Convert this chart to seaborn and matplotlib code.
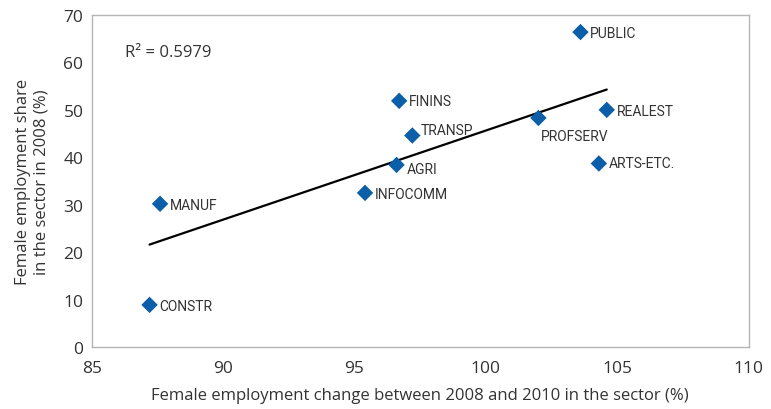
import pandas as pd
import matplotlib
matplotlib.use('Agg')
import matplotlib.pyplot as plt
import seaborn as sns

sectors = ['PUBLIC', 'FININS', 'TRANSP', 'AGRI', 'PROFSERV', 'REALEST',
           'ARTS-ETC.', 'INFOCOMM', 'MANUF', 'CONSTR']
emp_change = [103.6, 96.7, 97.2, 96.6, 102.0, 104.6, 104.3, 95.4, 87.6, 87.2]
female_share = [66.4, 51.9, 44.6, 38.4, 48.3, 50.0, 38.7, 32.5, 30.2, 8.9]

# label offsets in points (dx, dy)
offsets = {'PUBLIC': (7, -1), 'FININS': (7, 0), 'TRANSP': (6, 4), 'AGRI': (7, -3),
           'PROFSERV': (2, -13), 'REALEST': (7, -1), 'ARTS-ETC.': (7, 0),
           'INFOCOMM': (7, -1), 'MANUF': (7, -1), 'CONSTR': (7, -1)}

df = pd.DataFrame({'sector': sectors, 'x': emp_change, 'y': female_share})

sns.set_style('white')
plt.rcParams['font.family'] = ['Open Sans', 'DejaVu Sans']
text_col = '#333333'

fig = plt.figure(figsize=(7.71, 4.10), dpi=100)
ax = fig.add_axes([0.119, 0.151, 0.852, 0.810])

sns.regplot(data=df, x='x', y='y', ax=ax, ci=None, scatter=False,
            line_kws={'color': 'black', 'lw': 1.6})
sns.scatterplot(data=df, x='x', y='y', ax=ax, marker='D', s=70,
                color='#0b5ea8', edgecolor='none', zorder=3)

for name, xv, yv in zip(sectors, emp_change, female_share):
    dx, dy = offsets[name]
    ax.annotate(name, (xv, yv), xytext=(dx, dy), textcoords='offset points',
                ha='left', va='center', fontsize=10, color=text_col,
                family=['Roboto', 'DejaVu Sans'])

ax.text(0.05, 0.89, 'R² = 0.5979', transform=ax.transAxes, fontsize=12,
        color=text_col, va='center')

ax.set_xlim(85, 110)
ax.set_ylim(0, 70)
ax.set_xticks(range(85, 111, 5))
ax.set_yticks(range(0, 71, 10))
ax.tick_params(axis='x', length=0, labelsize=12.5, colors=text_col, pad=9)
ax.tick_params(axis='y', length=0, labelsize=12.5, colors=text_col, pad=6)
ax.set_xlabel('Female employment change between 2008 and 2010 in the sector (%)',
              fontsize=12, color=text_col, labelpad=8)
ax.set_ylabel('Female employment share\nin the sector in 2008 (%)',
              fontsize=12, color=text_col, labelpad=10)
for sp in ax.spines.values():
    sp.set_color('#b5b5b5')
    sp.set_linewidth(1.0)

fig.savefig('out.png', dpi=100)
